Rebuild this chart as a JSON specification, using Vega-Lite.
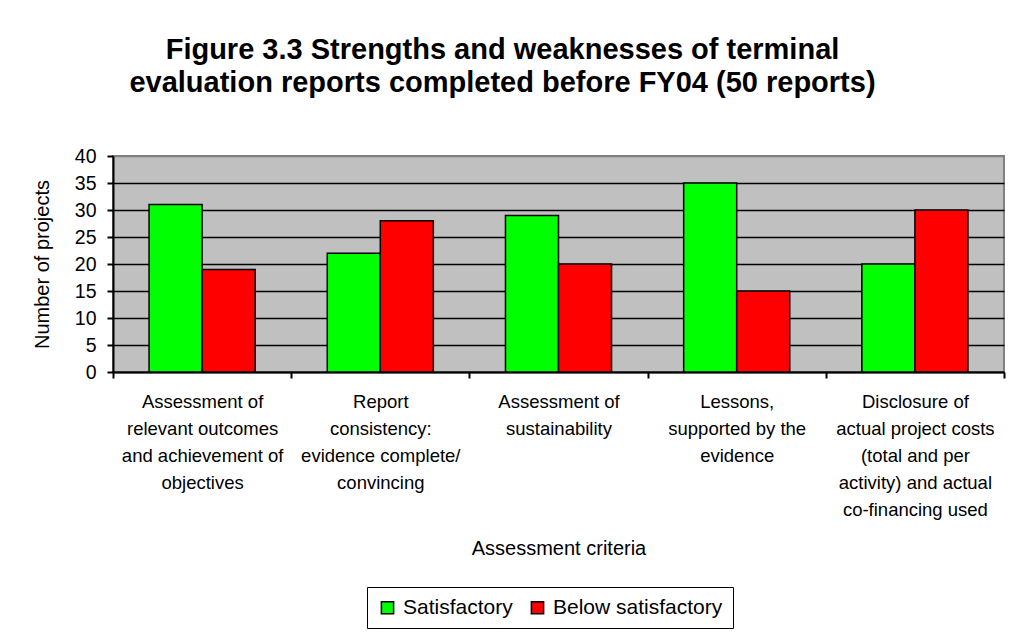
{
  "$schema": "https://vega.github.io/schema/vega-lite/v6.json",
  "autosize": {"type": "none"},
  "width": 891,
  "height": 216,
  "padding": {"left": 113, "top": 156, "right": 6, "bottom": 264},
  "background": "white",
  "title": {
    "text": ["Figure 3.3 Strengths and weaknesses of terminal", "evaluation reports completed before FY04 (50 reports)"],
    "fontSize": 29,
    "fontWeight": "bold",
    "font": "Liberation Sans",
    "color": "black",
    "anchor": "middle",
    "dx": -56,
    "lineHeight": 33,
    "offset": 48
  },
  "data": {
    "values": [
      {"criterion": "Assessment of|relevant outcomes|and achievement of|objectives", "rating": "Satisfactory", "count": 31},
      {"criterion": "Assessment of|relevant outcomes|and achievement of|objectives", "rating": "Below satisfactory", "count": 19},
      {"criterion": "Report|consistency:|evidence complete/|convincing", "rating": "Satisfactory", "count": 22},
      {"criterion": "Report|consistency:|evidence complete/|convincing", "rating": "Below satisfactory", "count": 28},
      {"criterion": "Assessment of|sustainability", "rating": "Satisfactory", "count": 29},
      {"criterion": "Assessment of|sustainability", "rating": "Below satisfactory", "count": 20},
      {"criterion": "Lessons,|supported by the|evidence", "rating": "Satisfactory", "count": 35},
      {"criterion": "Lessons,|supported by the|evidence", "rating": "Below satisfactory", "count": 15},
      {"criterion": "Disclosure of|actual project costs|(total and per|activity) and actual|co-financing used", "rating": "Satisfactory", "count": 20},
      {"criterion": "Disclosure of|actual project costs|(total and per|activity) and actual|co-financing used", "rating": "Below satisfactory", "count": 30}
    ]
  },
  "mark": {"type": "bar", "stroke": "black", "strokeWidth": 1.5},
  "encoding": {
    "x": {
      "field": "criterion",
      "type": "nominal",
      "sort": null,
      "scale": {"paddingInner": 0, "paddingOuter": 0},
      "axis": {
        "title": "Assessment criteria",
        "titleFontSize": 20,
        "titleFontWeight": "normal",
        "titleColor": "black",
        "titlePadding": 20,
        "labelExpr": "split(datum.label, '|')",
        "labelAngle": 0,
        "labelFontSize": 18.5,
        "labelLineHeight": 27,
        "labelColor": "black",
        "labelPadding": 14,
        "labelLimit": 400,
        "labelOverlap": false,
        "labelBound": false,
        "tickBand": "extent",
        "tickSize": 6,
        "tickColor": "black",
        "tickWidth": 2,
        "domainColor": "black",
        "domainWidth": 2,
        "grid": false
      }
    },
    "xOffset": {
      "field": "rating",
      "type": "nominal",
      "scale": {"domain": ["Satisfactory", "Below satisfactory"], "paddingInner": 0, "paddingOuter": 0.68}
    },
    "y": {
      "field": "count",
      "type": "quantitative",
      "scale": {"domain": [0, 40], "nice": false},
      "axis": {
        "title": "Number of projects",
        "titleFontSize": 20,
        "titleFontWeight": "normal",
        "titleColor": "black",
        "titlePadding": 22,
        "values": [0, 5, 10, 15, 20, 25, 30, 35, 40],
        "labelFontSize": 19.5,
        "labelColor": "black",
        "labelPadding": 11,
        "tickSize": 6,
        "tickColor": "black",
        "tickWidth": 2,
        "domainColor": "black",
        "domainWidth": 2,
        "grid": true,
        "gridColor": {"condition": {"test": "datum.value >= 40", "value": "#808080"}, "value": "black"},
        "gridWidth": 1.5
      }
    },
    "color": {
      "field": "rating",
      "type": "nominal",
      "scale": {"domain": ["Satisfactory", "Below satisfactory"], "range": ["#00FF00", "#FF0000"]},
      "legend": {
        "title": null,
        "orient": "none",
        "legendX": 254,
        "legendY": 431,
        "direction": "horizontal",
        "strokeColor": "black",
        "fillColor": "white",
        "padding": 10,
        "symbolType": "square",
        "symbolSize": 150,
        "symbolStrokeColor": "black",
        "symbolStrokeWidth": 1.5,
        "symbolOpacity": 1,
        "labelFontSize": 21,
        "labelColor": "black",
        "labelOffset": 5,
        "labelLimit": 400,
        "columnPadding": 14
      }
    }
  },
  "config": {
    "font": "Liberation Sans",
    "view": {"fill": "#C0C0C0", "stroke": "#808080", "strokeWidth": 2}
  }
}
